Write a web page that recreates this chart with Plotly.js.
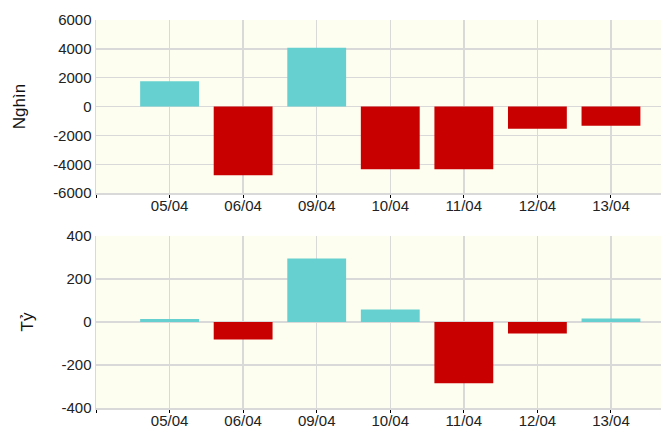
<!DOCTYPE html>
<html>
<head>
<meta charset="utf-8">
<script src="https://cdn.plot.ly/plotly-3.0.1.min.js"></script>
<style>html,body{margin:0;padding:0;background:#fff;}#chart{width:661px;height:427px;}</style>
</head>
<body>
<div id="chart"></div>
<script>
const categories = ["05/04", "06/04", "09/04", "10/04", "11/04", "12/04", "13/04"];
const volumeThousand = [1750, -4760, 4080, -4340, -4340, -1540, -1330];
const valueBillion = [14, -82, 295, 58, -285, -54, 16];
const volumeTicks = [-6000, -4000, -2000, 0, 2000, 4000, 6000];
const valueTicks = [-400, -200, 0, 200, 400];

const UP = "#66D0D0", DOWN = "#C80000";
const idx = categories.map((c, i) => i);
const colorsOf = arr => arr.map(v => v >= 0 ? UP : DOWN);

const traces = [
  {type: "bar", x: idx, y: volumeThousand, xaxis: "x", yaxis: "y", width: 0.8,
   marker: {color: colorsOf(volumeThousand), line: {width: 0}}, hoverinfo: "none"},
  {type: "bar", x: idx, y: valueBillion, xaxis: "x2", yaxis: "y2", width: 0.8,
   marker: {color: colorsOf(valueBillion), line: {width: 0}}, hoverinfo: "none"}
];

const FAM = "Liberation Sans, Arial, sans-serif";
const font = {family: FAM, size: 15, color: "#222"};
const tickvals = [-1].concat(idx);
const ticktext = [""].concat(categories);
const xax = anchor => ({
  range: [-1, 6.68], tickvals: tickvals, ticktext: ticktext, ticks: "outside", ticklen: 3,
  tickcolor: "#000", tickwidth: 1, showgrid: true, gridcolor: "#d9d9d9", gridwidth: 1.5,
  showline: true, linecolor: "#d9d9d9", linewidth: 1.5, zeroline: false, tickfont: font,
  ticklabelstandoff: -5, fixedrange: true, anchor: anchor
});
const yax = (ticks, dom, title) => ({
  domain: dom, range: [ticks[0], ticks[ticks.length - 1]], tickvals: ticks,
  ticktext: ticks.map(v => String(v)),
  showgrid: true, gridcolor: "#d9d9d9", gridwidth: 1.5, showline: true, linecolor: "#d9d9d9",
  linewidth: 1.5, zeroline: false, ticks: "", tickfont: font,
  title: {text: title, font: {family: FAM, size: 17, color: "#111"}, standoff: 23}
});

const layout = {
  width: 661, height: 427, showlegend: false,
  margin: {l: 96, r: 0, t: 20, b: 19, pad: 0},
  paper_bgcolor: "#ffffff", plot_bgcolor: "#FEFEF0",
  xaxis: xax("y"),
  yaxis: yax(volumeTicks, [0.5538, 1], "Nghìn"),
  xaxis2: xax("y2"),
  yaxis2: yax(valueTicks, [0, 0.4437], "Tỷ")
};

Plotly.newPlot("chart", traces, layout, {displayModeBar: false, staticPlot: true});
</script>
</body>
</html>
